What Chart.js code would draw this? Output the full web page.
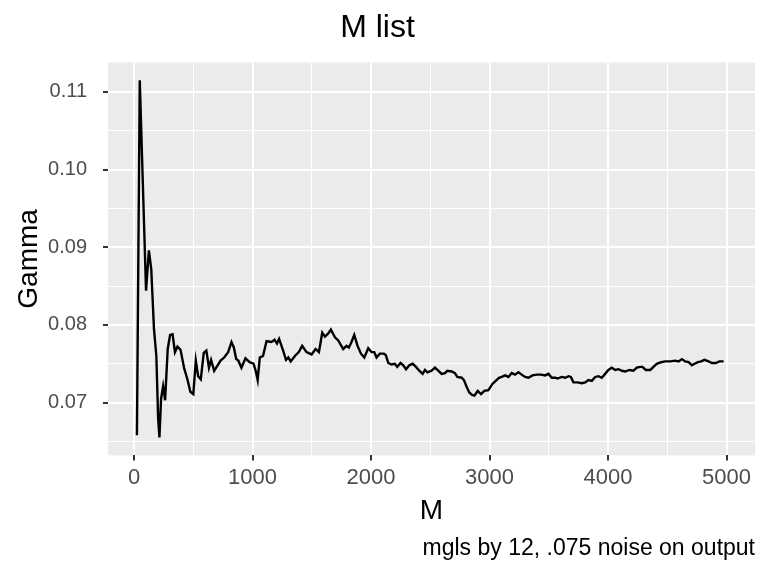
<!DOCTYPE html>
<html lang="en">
<head>
    <meta charset="UTF-8">
    <title>M list</title>
    <style>
        * {
            margin: 0;
            padding: 0;
            box-sizing: border-box;
        }

        body {
            background: #fff;
        }

        .chart-box {
            width: 768px;
            height: 576px;
        }
    </style>
</head>
<body>
    <div class="chart-box">
        <canvas id="gamma-chart"></canvas>
    </div>

    <script src="https://cdn.jsdelivr.net/npm/chart.js"></script>
    <script>
        // values
        const mList = [
            24, 48, 101, 125, 145, 168, 188, 203, 214, 228, 245, 262, 284, 304, 325, 345, 366, 392,
            423, 450, 475, 500, 521, 541, 563, 588, 610, 632, 650, 676, 709, 730, 760, 794, 822, 842,
            862, 880, 906, 940, 975, 1008, 1028, 1043, 1061, 1088, 1118, 1160, 1186, 1206, 1224, 1258,
            1282, 1302, 1322, 1357, 1390, 1419, 1455, 1498, 1532, 1560, 1588, 1611, 1639, 1661, 1695,
            1723, 1765, 1793, 1813, 1835, 1858, 1886, 1915, 1943, 1976, 2004, 2027, 2046, 2074, 2108,
            2125, 2145, 2173, 2201, 2221, 2249, 2272, 2295, 2323, 2351, 2379, 2407, 2435, 2455, 2475,
            2511, 2539, 2567, 2595, 2624, 2644, 2680, 2708, 2728, 2765, 2784, 2807, 2829, 2852, 2872,
            2900, 2928, 2956, 2990, 3024, 3052, 3080, 3102, 3131, 3159, 3187, 3215, 3243, 3271, 3300,
            3328, 3362, 3398, 3435, 3469, 3497, 3525, 3553, 3573, 3610, 3638, 3666, 3686, 3708, 3742,
            3779, 3807, 3834, 3863, 3891, 3919, 3947, 3975, 4003, 4031, 4060, 4088, 4116, 4144, 4180,
            4214, 4243, 4271, 4290, 4319, 4356, 4383, 4411, 4448, 4482, 4525, 4567, 4595, 4623, 4651,
            4680, 4707, 4730, 4758, 4786, 4814, 4848, 4876, 4910, 4939, 4975
        ];
        const gammaList = [
            0.0658, 0.1115, 0.0844, 0.0896, 0.0872, 0.0795, 0.0760, 0.0680, 0.0655, 0.0705, 0.0721, 0.0703, 0.0769, 0.0787, 0.0788, 0.0765, 0.0772, 0.0768,
            0.0744, 0.0730, 0.0714, 0.0711, 0.0754, 0.0734, 0.0730, 0.0764, 0.0767, 0.0745, 0.0755, 0.0741, 0.0749, 0.0754, 0.0758, 0.0765, 0.0778, 0.0771,
            0.0756, 0.0754, 0.0745, 0.0757, 0.0752, 0.0750, 0.0740, 0.0729, 0.0758, 0.0760, 0.0779, 0.0778, 0.0781, 0.0776, 0.0782, 0.0767,
            0.0755, 0.0758, 0.0753, 0.0760, 0.0765, 0.0773, 0.0765, 0.0762, 0.0769, 0.0765, 0.0790, 0.0785, 0.0789, 0.0794, 0.0784,
            0.0780, 0.0769, 0.0773, 0.0771, 0.0778, 0.0787, 0.0773, 0.0763, 0.0758, 0.0770, 0.0765, 0.0765, 0.0758, 0.0763, 0.0763,
            0.0761, 0.0751, 0.0749, 0.0750, 0.0746, 0.0751, 0.0748, 0.0743, 0.0748, 0.0750, 0.0746, 0.0741, 0.0737, 0.0742, 0.0739,
            0.0741, 0.0745, 0.0741, 0.0737, 0.0738, 0.0741, 0.0740, 0.0738, 0.0733, 0.0732, 0.0729, 0.0720, 0.0713, 0.0710, 0.0709,
            0.0715, 0.0711, 0.0715, 0.0716, 0.0724, 0.0728, 0.0732, 0.0733, 0.0735, 0.0733, 0.0738, 0.0736, 0.0739, 0.0736, 0.0733,
            0.0732, 0.0735, 0.0736, 0.0736, 0.0735, 0.0737, 0.0732, 0.0732, 0.0731, 0.0733, 0.0732, 0.0734, 0.0733, 0.0726, 0.0726,
            0.0725, 0.0726, 0.0729, 0.0728, 0.0733, 0.0734, 0.0732, 0.0737, 0.0742, 0.0745, 0.0742, 0.0743, 0.0741, 0.0740, 0.0742,
            0.0741, 0.0745, 0.0746, 0.0746, 0.0742, 0.0742, 0.0746, 0.0750, 0.0752, 0.0753, 0.0753, 0.0754, 0.0753, 0.0756, 0.0753,
            0.0752, 0.0748, 0.0750, 0.0752, 0.0753, 0.0755, 0.0753, 0.0751, 0.0751, 0.0753, 0.0753
        ];

        // grid breaks (major ones get labels)
        const xBreaks = [0, 500, 1000, 1500, 2000, 2500, 3000, 3500, 4000, 4500, 5000];
        const yBreaks = [0.065, 0.07, 0.075, 0.08, 0.085, 0.09, 0.095, 0.10, 0.105, 0.11];

        const FONT = "'Liberation Sans', Arial, sans-serif";

        function isMajorX(v) {
            return v % 1000 === 0;
        }

        function isMajorY(v) {
            return Math.abs(v * 100 - Math.round(v * 100)) < 1e-6;
        }

        // grey panel like ggplot
        const panelBg = {
            id: 'panelBg',
            beforeDraw(chart) {
                const { ctx, chartArea } = chart;
                ctx.save();
                ctx.fillStyle = '#EBEBEB';
                ctx.fillRect(chartArea.left, chartArea.top, chartArea.right - chartArea.left, chartArea.bottom - chartArea.top);
                ctx.restore();
            }
        };

        const ctx = document.getElementById('gamma-chart').getContext('2d');
        const chart = new Chart(ctx, {
            type: 'line',
            data: {
                datasets: [{
                    data: mList.map((m, i) => ({ x: m, y: gammaList[i] })),
                    borderColor: '#000',
                    borderWidth: 2.4,
                    pointRadius: 0,
                    tension: 0,
                    fill: false
                }]
            },
            options: {
                responsive: true,
                maintainAspectRatio: false,
                animation: false,
                layout: {
                    padding: { left: 0, right: 13, top: 0, bottom: 0 }
                },
                plugins: {
                    legend: { display: false },
                    tooltip: { enabled: false },
                    title: {
                        display: true,
                        text: 'M list',
                        color: '#000',
                        font: { family: FONT, size: 32, weight: 'normal', lineHeight: 1.2 },
                        padding: { top: 9, bottom: 15 }
                    },
                    subtitle: {
                        display: true,
                        position: 'bottom',
                        align: 'end',
                        text: 'mgls by 12, .075 noise on output',
                        color: '#000',
                        font: { family: FONT, size: 23, weight: 'normal', lineHeight: 1.2 },
                        padding: { top: 2, bottom: 14 }
                    }
                },
                scales: {
                    x: {
                        type: 'linear',
                        min: -220,
                        max: 5240,
                        afterBuildTicks(scale) { scale.ticks = xBreaks.map(v => ({ value: v })); },
                        afterFit(scale) { scale.height = 77; },
                        border: { display: false },
                        grid: {
                            color: '#fff',
                            lineWidth: c => isMajorX(c.tick.value) ? 2 : 1,
                            tickColor: c => isMajorX(c.tick.value) ? '#333' : 'rgba(0,0,0,0)',
                            tickWidth: 2,
                            tickLength: 5
                        },
                        ticks: {
                            autoSkip: false,
                            maxRotation: 0,
                            color: '#4D4D4D',
                            padding: 4,
                            font: { family: FONT, size: 22 },
                            callback: v => isMajorX(v) ? String(v) : ''
                        },
                        title: {
                            display: true,
                            text: 'M',
                            color: '#000',
                            font: { family: FONT, size: 28, lineHeight: 1.2 },
                            padding: { top: 0, bottom: 4 }
                        }
                    },
                    y: {
                        min: 0.0632,
                        max: 0.1138,
                        afterBuildTicks(scale) { scale.ticks = yBreaks.map(v => ({ value: v })); },
                        afterFit(scale) { scale.width = 108; },
                        border: { display: false },
                        grid: {
                            color: '#fff',
                            lineWidth: c => isMajorY(c.tick.value) ? 2 : 1,
                            tickColor: c => isMajorY(c.tick.value) ? '#333' : 'rgba(0,0,0,0)',
                            tickWidth: 2,
                            tickLength: 5
                        },
                        ticks: {
                            autoSkip: false,
                            color: '#4D4D4D',
                            padding: 16,
                            font: { family: FONT, size: 20 },
                            callback: v => isMajorY(v) ? v.toFixed(2) : ''
                        },
                        title: {
                            display: true,
                            text: 'Gamma',
                            color: '#000',
                            font: { family: FONT, size: 28, lineHeight: 1.2 },
                            padding: { top: 12, bottom: 0 }
                        }
                    }
                }
            },
            plugins: [panelBg]
        });
    </script>
</body>
</html>
